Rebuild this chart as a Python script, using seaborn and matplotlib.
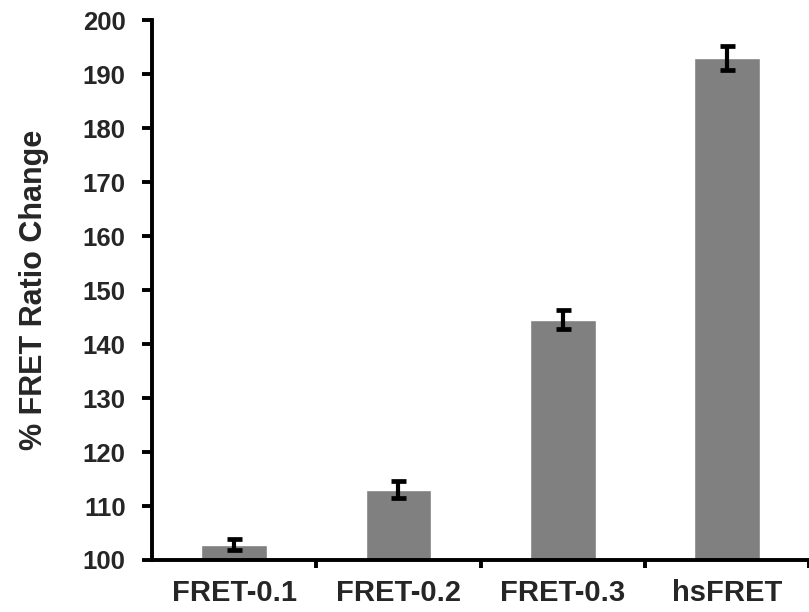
import pandas as pd
import matplotlib
matplotlib.use("Agg")
import matplotlib.pyplot as plt
import seaborn as sns

# values
constructs = ["FRET-0.1", "FRET-0.2", "FRET-0.3", "hsFRET"]
ratio_change = [102.8, 113.0, 144.5, 193.0]
ratio_err = [1.0, 1.6, 1.8, 2.2]
y_ticks = list(range(100, 201, 10))

df = pd.DataFrame({"construct": constructs, "change": ratio_change})

sns.set_theme(style="white")
plt.rcParams["font.family"] = ["Liberation Sans", "DejaVu Sans"]
plt.rcParams["font.weight"] = "bold"

fig = plt.figure(figsize=(8.09, 6.12), dpi=100)
ax = fig.add_axes([0.188, 0.085, 0.812, 0.882])

sns.barplot(data=df, x="construct", y="change", color="#808080",
            saturation=1, width=0.4, errorbar=None, ax=ax)
ax.errorbar(range(len(constructs)), ratio_change, yerr=ratio_err, fmt="none",
            ecolor="black", elinewidth=3, capsize=5.4, capthick=3.4)

ax.set_ylim(100, 200)
ax.set_xlim(-0.5, 3.46)
ax.set_yticks(y_ticks)
ax.set_yticklabels([str(t) for t in y_ticks], fontsize=18.5, fontweight="bold")
ax.set_xticks(range(len(constructs)))
ax.set_xticklabels(constructs, fontsize=21, fontweight="bold")
ax.set_xticks([0.5, 1.5, 2.5, 3.5], minor=True)

ax.tick_params(axis="y", which="major", direction="out", length=7, width=2.8,
               pad=12, color="black", left=True)
ax.tick_params(axis="x", which="major", length=0, pad=14)
ax.tick_params(axis="x", which="minor", direction="out", length=6, width=2.8,
               color="black", bottom=True)

ax.set_xlabel("")
ax.set_ylabel("% FRET Ratio Change", fontsize=22, fontweight="bold", labelpad=24)

for side in ["top", "right"]:
    ax.spines[side].set_visible(False)
for side in ["left", "bottom"]:
    ax.spines[side].set_linewidth(2.8)
    ax.spines[side].set_color("black")

fig.savefig("out.png", dpi=100)
